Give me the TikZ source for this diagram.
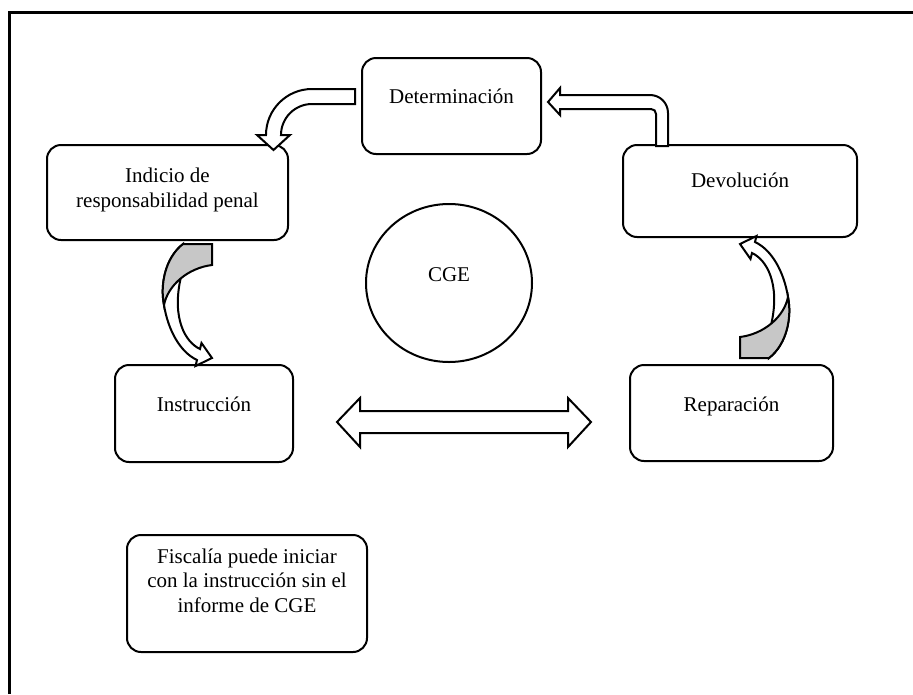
\documentclass[tikz,border=0pt]{standalone}
\usepackage{fontspec}
\setmainfont{Liberation Serif}
\usetikzlibrary{shapes.geometric}
\begin{document}
\begin{tikzpicture}[x=1pt,y=-1pt,
  every node/.style={font=\fontsize{21}{24.5}\selectfont},
  box/.style={draw, line width=2pt, rounded corners=14pt, inner sep=0pt, align=center},
  blk/.style={draw, line width=2pt, fill=white, line join=miter},
  shd/.style={draw, line width=2pt, fill=black!22, line join=miter}]
\useasboundingbox (0,0) rectangle (913,694);
% frame
\draw[line width=3pt] (9.5,694) -- (9.5,12.5) -- (913,12.5);
% boxes
\node[box, minimum width=179pt, minimum height=96pt, text height=45pt, text depth=51pt] (det) at (451.5,106) {Determinación};
\node[box, minimum width=241pt, minimum height=95pt, text height=62pt, text depth=33pt] (ind) at (167.5,192.5) {Indicio de\\responsabilidad penal};
\node[box, minimum width=234pt, minimum height=92pt, text height=42pt, text depth=50pt] (dev) at (740,191) {Devolución};
\node[box, minimum width=178pt, minimum height=97pt, text height=46pt, text depth=51pt] (ins) at (204,413.5) {Instrucción};
\node[box, minimum width=203pt, minimum height=96pt, text height=46pt, text depth=50pt] (rep) at (731.5,413) {Reparación};
\node[box, minimum width=240pt, minimum height=117pt, text height=77pt, text depth=40pt] (fis) at (247,593.5) {Fiscalía puede iniciar\\con la instrucción sin el\\informe de CGE};
\node[draw, ellipse, line width=2pt, minimum width=166pt, minimum height=158pt, inner sep=0pt, text height=10pt, text depth=14pt] (cge) at (449,283) {CGE};
% Determinacion -> Indicio
\draw[blk] (355,89) -- (312,89) .. controls (286.6,89) and (266,109.6) .. (266,135) -- (257,135) -- (273.5,150) -- (290,135) -- (281,135) .. controls (281,117.9) and (294.9,104) .. (312,104) -- (355,104) -- cycle;
% Devolucion -> Determinacion
\draw[blk] (548,102) -- (560,88) -- (560,95) -- (650,95) .. controls (660,95) and (668,103) .. (668,113) -- (668,146) -- (656,146) -- (656,114) .. controls (656,111) and (654,109) .. (651,109) -- (560,109) -- (560,115) -- cycle;
% Indicio -> Instruccion (curved)
\draw[blk] (183,244) .. controls (165,258) and (160,285) .. (164,305) .. controls (168,330) and (180,352) .. (197,360) -- (195.5,366) -- (212,358) -- (201.5,343) -- (200,349) .. controls (185,342) and (172,318) .. (180.5,279) -- cycle;
\draw[shd] (183,244) -- (212,244) -- (212,265) .. controls (188,268) and (168,285) .. (164,305) .. controls (160,285) and (165,258) .. (183,244) -- cycle;
% Reparacion -> Devolucion (curved, rotated copy)
\begin{scope}[rotate around={180:(476,301)}]
\draw[blk] (183,244) .. controls (165,258) and (160,285) .. (164,305) .. controls (168,330) and (180,352) .. (197,360) -- (195.5,366) -- (212,358) -- (201.5,343) -- (200,349) .. controls (185,342) and (172,318) .. (180.5,279) -- cycle;
\draw[shd] (183,244) -- (212,244) -- (212,265) .. controls (188,268) and (168,285) .. (164,305) .. controls (160,285) and (165,258) .. (183,244) -- cycle;
\end{scope}
% double arrow
\draw[blk] (337,422) -- (360,398) -- (360,411) -- (568,411) -- (568,398) -- (591,422) -- (568,447) -- (568,433) -- (360,433) -- (360,447) -- cycle;
\end{tikzpicture}
\end{document}
